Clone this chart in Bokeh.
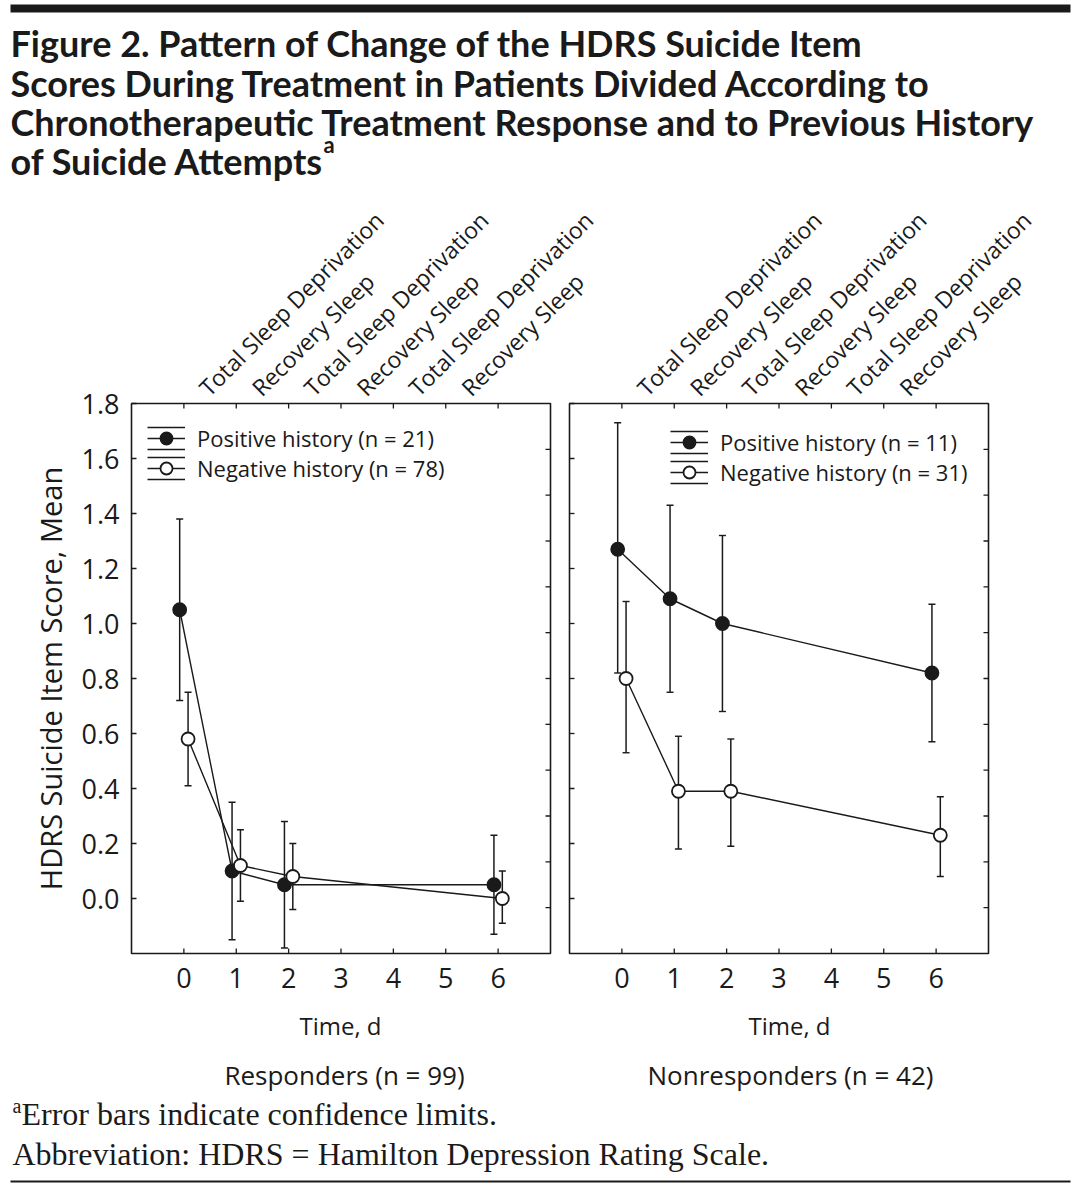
import math
from bokeh.plotting import figure
from bokeh.models import (Range1d, LinearAxis, FixedTicker, Whisker, TeeHead, ColumnDataSource,
                          Legend, LegendItem, Label, BoxAnnotation)
from bokeh.layouts import column, row
from bokeh.embed import file_html
from bokeh.resources import INLINE
from bokeh.core.properties import value

# ---------------- data ----------------
days = [0, 1, 2, 6]

resp_pos_mean = [1.05, 0.10, 0.05, 0.05]
resp_pos_lo = [0.72, -0.15, -0.18, -0.13]
resp_pos_hi = [1.38, 0.35, 0.28, 0.23]
resp_neg_mean = [0.58, 0.12, 0.08, 0.00]
resp_neg_lo = [0.41, -0.01, -0.04, -0.09]
resp_neg_hi = [0.75, 0.25, 0.20, 0.10]

non_pos_mean = [1.27, 1.09, 1.00, 0.82]
non_pos_lo = [0.82, 0.75, 0.68, 0.57]
non_pos_hi = [1.73, 1.43, 1.32, 1.07]
non_neg_mean = [0.80, 0.39, 0.39, 0.23]
non_neg_lo = [0.53, 0.18, 0.19, 0.08]
non_neg_hi = [1.08, 0.59, 0.58, 0.37]

phase_labels = ["Total Sleep Deprivation", "Recovery Sleep",
                "Total Sleep Deprivation", "Recovery Sleep",
                "Total Sleep Deprivation", "Recovery Sleep"]
phase_days = [0, 1, 2, 3, 4, 5]
x_ticks = [0, 1, 2, 3, 4, 5, 6]
x_tick_labels = ["0", "1", "2", "3", "4", "5", "6"]
y_ticks = [0.0, 0.2, 0.4, 0.6, 0.8, 1.0, 1.2, 1.4, 1.6, 1.8]
y_tick_labels = ["0.0", "0.2", "0.4", "0.6", "0.8", "1.0", "1.2", "1.4", "1.6", "1.8"]

title_lines = ["Figure 2. Pattern of Change of the HDRS Suicide Item",
               "Scores During Treatment in Patients Divided According to",
               "Chronotherapeutic Treatment Response and to Previous History",
               "of Suicide Attempts"]
x_axis_title = "Time, d"
y_axis_title = "HDRS Suicide Item Score, Mean"
panel_titles = ["Responders (n = 99)", "Nonresponders (n = 42)"]
legend_labels = [["Positive history (n = 21)", "Negative history (n = 78)"],
                 ["Positive history (n = 11)", "Negative history (n = 31)"]]
foot_1 = "Error bars indicate confidence limits."
foot_2 = "Abbreviation: HDRS = Hamilton Depression Rating Scale."

# ---------------- style / layout ----------------
INK = "#1a1a1a"
SANS = "Open Sans"
TITLE_FONT = "Lato"
SERIF = "Liberation Serif"
W, H = 1080, 1186
RULE_L, RULE_R = 10, 1070
FRAME_W, FRAME_H = 419, 550          # size of each panel box, px
L_FRAME_X, R_FRAME_X = 131, 569      # left edges of the two panel boxes, px
BOX_TOP = 403
X_START, X_END = -1, 7
Y_START, Y_END = -0.2, 1.8
PAD = 3                              # frame margin around the boxes, px
TICK = 5
DODGE = 0.08
HEADER_H = 186
TOP_B = BOX_TOP - PAD - HEADER_H
BOT_B = 46
PLOT_H = TOP_B + FRAME_H + 2 * PAD + BOT_B
FOOTER_H = H - HEADER_H - PLOT_H

unit_x = FRAME_W / (X_END - X_START)
unit_y = FRAME_H / (Y_END - Y_START)
frame_left = L_FRAME_X - PAD
frame_w = (R_FRAME_X + FRAME_W + PAD) - frame_left
x0_left = X_START - PAD / unit_x
x0_right = X_START - (R_FRAME_X - frame_left) / unit_x
shift_right = (R_FRAME_X - L_FRAME_X) / unit_x   # right-panel offset in left-panel units

p = figure(frame_width=frame_w, frame_height=FRAME_H + 2 * PAD,
           x_range=Range1d(x0_left, x0_left + frame_w / unit_x),
           y_range=Range1d(Y_START - PAD / unit_y, Y_END + PAD / unit_y),
           x_axis_location=None, y_axis_location=None,
           min_border_left=frame_left, min_border_right=W - frame_left - frame_w,
           min_border_top=TOP_B, min_border_bottom=BOT_B,
           toolbar_location=None, output_backend="svg")
p.extra_x_ranges = {"right": Range1d(x0_right, x0_right + frame_w / unit_x)}
p.grid.visible = False
p.outline_line_color = None


def style(ax, size):
    ax.axis_line_color = None
    ax.major_tick_in = 0
    ax.major_tick_out = 0
    ax.minor_tick_in = 0
    ax.minor_tick_out = 0
    ax.major_label_text_font = SANS
    ax.major_label_text_font_size = size
    ax.major_label_text_color = INK
    ax.axis_label_text_font = SANS
    ax.axis_label_text_font_style = "normal"
    ax.axis_label_text_color = INK


# left axis: labels 0.0 .. 1.8 and title
left = LinearAxis(ticker=FixedTicker(ticks=y_ticks))
style(left, "27px")
left.major_label_overrides = {t: l for t, l in zip(y_ticks, y_tick_labels)}
left.major_label_standoff = 9
left.axis_label = y_axis_title
left.axis_label_text_font_size = "29px"
left.axis_label_standoff = 9
p.add_layout(left, "left")

# bottom axis: day labels under both panels
bt = x_ticks + [t + shift_right for t in x_ticks]
bottom = LinearAxis(ticker=FixedTicker(ticks=bt))
style(bottom, "27px")
bottom.major_label_overrides = {t: l for t, l in zip(bt, x_tick_labels * 2)}
bottom.major_label_standoff = 11
p.add_layout(bottom, "below")

# top axis: rotated treatment-phase labels above both panels
tp = [d + 0.37 for d in phase_days] + [d + 0.37 + shift_right for d in phase_days]
top = LinearAxis(ticker=FixedTicker(ticks=tp))
style(top, "23px")
top.major_label_overrides = {t: l for t, l in zip(tp, phase_labels * 2)}
top.major_label_orientation = math.pi / 4
top.major_label_standoff = 9
p.add_layout(top, "above")

r_ticks = [Y_START + k * (Y_END - Y_START) / 12 for k in range(1, 12)]


def panel(pos, neg, labels, rng, leg_loc):
    kw = {} if rng is None else {"x_range_name": rng}
    # box and inward ticks
    p.quad(left=[X_START], right=[X_END], bottom=[Y_START], top=[Y_END], fill_color=None,
           line_color=INK, line_width=1.6, **kw)
    tick_kw = dict(length=TICK, length_units="screen", line_color=INK, line_width=1.3, **kw)
    p.ray(x=[X_START] * len(y_ticks), y=y_ticks, angle=0, **tick_kw)
    p.ray(x=[X_END] * len(r_ticks), y=r_ticks, angle=math.pi, **tick_kw)
    p.ray(x=x_ticks, y=[Y_START] * len(x_ticks), angle=math.pi / 2, **tick_kw)
    p.ray(x=x_ticks, y=[Y_END] * len(x_ticks), angle=-math.pi / 2, **tick_kw)

    rends = []
    for (m, lo, hi), off, fill in ((pos, -DODGE, INK), (neg, DODGE, "white")):
        src = ColumnDataSource(dict(x=[d + off for d in days], y=m, lo=lo, hi=hi))
        wk = Whisker(source=src, base="x", upper="hi", lower="lo", dimension="height",
                     line_color=INK, line_width=1.5, level="underlay",
                     upper_head=TeeHead(size=7, line_color=INK, line_width=1.4),
                     lower_head=TeeHead(size=7, line_color=INK, line_width=1.4), **kw)
        p.add_layout(wk)
        ln = p.line("x", "y", source=src, line_color=INK, line_width=1.4, **kw)
        rends.append((src, ln, fill))
    items, lines = [], []
    for (src, ln, fill), lab in zip(rends, labels):
        sc = p.scatter("x", "y", source=src, size=13, fill_color=fill, line_color=INK,
                       line_width=1.8, **kw)
        items.append(LegendItem(label=value(lab), renderers=[ln, sc]))
        lines.append(ln)

    common = dict(orientation="vertical", glyph_width=38, glyph_height=30, spacing=0,
                  padding=0, margin=0, label_standoff=12, border_line_color=None,
                  background_fill_alpha=0, label_text_font=SANS,
                  label_text_font_size="22px", label_text_color=INK)
    # top and bottom bars of the legend's error-bar symbol
    for dy in (11, -11):
        cap_items = [LegendItem(label=value(""), renderers=[ln]) for ln in lines]
        p.add_layout(Legend(items=cap_items, location=(leg_loc[0], leg_loc[1] + dy), **common))
    p.add_layout(Legend(items=items, location=leg_loc, **common))


panel((resp_pos_mean, resp_pos_lo, resp_pos_hi), (resp_neg_mean, resp_neg_lo, resp_neg_hi),
      legend_labels[0], None, (19, 473))
panel((non_pos_mean, non_pos_lo, non_pos_hi), (non_neg_mean, non_neg_lo, non_neg_hi),
      legend_labels[1], "right", (R_FRAME_X - frame_left + 101, 469))


def text_fig(h):
    f = figure(width=W, height=h, x_range=Range1d(0, W), y_range=Range1d(h, 0),
               x_axis_location=None, y_axis_location=None, min_border=0,
               toolbar_location=None, output_backend="svg")
    f.grid.visible = False
    f.outline_line_color = None
    return f


# ---------------- header: rule and title ----------------
header = text_fig(HEADER_H)
header.add_layout(BoxAnnotation(left=RULE_L, right=RULE_R, top=4, bottom=12,
                                fill_color=INK, fill_alpha=1, line_color=None))
for txt, cy in zip(title_lines, [42, 82, 121, 160]):
    header.add_layout(Label(x=10, y=cy, text=txt, text_font=TITLE_FONT, text_font_style="bold",
                            text_font_size="36px", text_color=INK, text_baseline="middle"))
header.add_layout(Label(x=323, y=144, text="a", text_font=TITLE_FONT, text_font_style="bold",
                        text_font_size="22px", text_color=INK, text_baseline="middle"))

# ---------------- footer ----------------
footer = text_fig(FOOTER_H)
f0 = HEADER_H + PLOT_H
for cx in (340, 789):
    footer.add_layout(Label(x=cx, y=1025 - f0, text=x_axis_title, text_font=SANS,
                            text_font_size="24px", text_color=INK, text_align="center",
                            text_baseline="middle"))
for txt, cx in zip(panel_titles, [344, 790]):
    footer.add_layout(Label(x=cx, y=1074 - f0, text=txt, text_font=SANS, text_font_size="26px",
                            text_color=INK, text_align="center", text_baseline="middle"))
footer.add_layout(Label(x=12, y=1105 - f0, text="a", text_font=SERIF, text_font_size="20px",
                        text_color=INK, text_baseline="middle"))
footer.add_layout(Label(x=21, y=1113 - f0, text=foot_1, text_font=SERIF, text_font_size="32px",
                        text_color=INK, text_baseline="middle"))
footer.add_layout(Label(x=12, y=1153 - f0, text=foot_2, text_font=SERIF, text_font_size="32px",
                        text_color=INK, text_baseline="middle"))
footer.add_layout(BoxAnnotation(left=RULE_L, right=RULE_R, top=1180 - f0, bottom=1182 - f0,
                                fill_color=INK, fill_alpha=1, line_color=None))

# the row() wrappers keep the three canvases from aligning their frames to each other
layout = column(row(header), row(p), row(footer), spacing=0)

open("out.html", "w").write(file_html(layout, INLINE))
